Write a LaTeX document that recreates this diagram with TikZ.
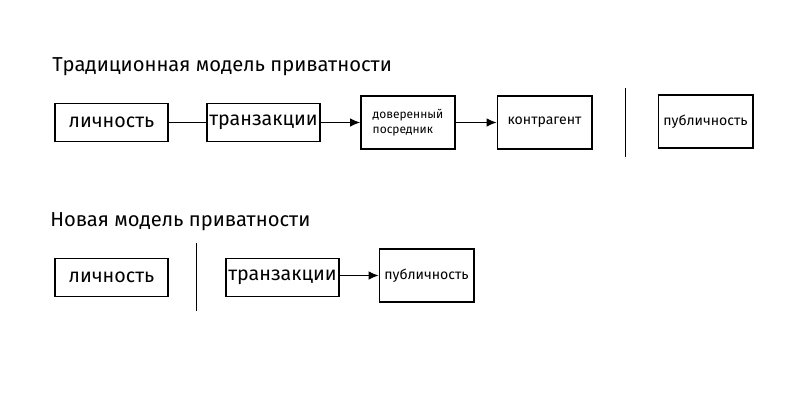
\documentclass[tikz,border=0pt]{standalone}
\usepackage{fontspec}
\setmainfont{Fira Sans}
\usetikzlibrary{arrows.meta}
\tikzset{
  bigbox/.style={draw, line width=1.4pt, minimum width=2.825cm, minimum height=0.95cm, inner sep=0pt, font=\fontsize{14}{16}\selectfont},
  smallbox/.style={draw, line width=1.4pt, minimum width=2.35cm, minimum height=1.325cm, inner sep=0pt, font=\fontsize{10}{12}\selectfont},
  link/.style={line width=0.6pt},
  arrowlink/.style={link, -{Latex[length=7pt,width=6pt]}},
  heading/.style={anchor=base west, inner sep=0pt, font=\fontsize{14.35}{17}\selectfont}
}
\begin{document}
\begin{tikzpicture}[x=0.025cm, y=-0.025cm]
			%%%%% FRAME %%%%%
			\useasboundingbox (0, 0) rectangle (800, 400);
			
			%%%%% TRADITIONAL MODEL %%%%%
			\node[heading] (titleold) at (52, 72) {Традиционная модель приватности};
			
			\node[bigbox] (personold) at (111.5, 122.5) {личность};
			\node[bigbox] (transold) at (263.5, 122.5) {транзакции};
			\node[smallbox, font=\fontsize{8.5}{10.5}\selectfont, align=left] (trusted) at (408, 122.5) {доверенный\\посредник};
			\node[smallbox] (partner) at (544.5, 122.5) {контрагент};
			\node[smallbox] (publicold) at (705.5, 121.5) {публичность};
			
			\draw[link] (personold) -- (transold);
			\draw[arrowlink] (transold) -- (trusted);
			\draw[arrowlink] (trusted) -- (partner);
			
			\coordinate (sepoldtop) at (625, 88);
			\coordinate (sepoldbot) at (625, 157);
			\draw[link] (sepoldtop) -- (sepoldbot);
			
			%%%%% NEW MODEL %%%%%
			\node[heading] (titlenew) at (50, 226) {Новая модель приватности};
			
			\node[bigbox] (personnew) at (111.5, 277.5) {личность};
			\node[bigbox] (transnew) at (282.5, 277.5) {транзакции};
			\node[smallbox] (publicnew) at (426.5, 275.5) {публичность};
			
			\draw[arrowlink] (transnew.east |- publicnew) -- (publicnew);
			
			\coordinate (sepnewtop) at (196, 243);
			\coordinate (sepnewbot) at (196, 311);
			\draw[link] (sepnewtop) -- (sepnewbot);
			
			%%%%% END %%%%%
\end{tikzpicture}
\end{document}
